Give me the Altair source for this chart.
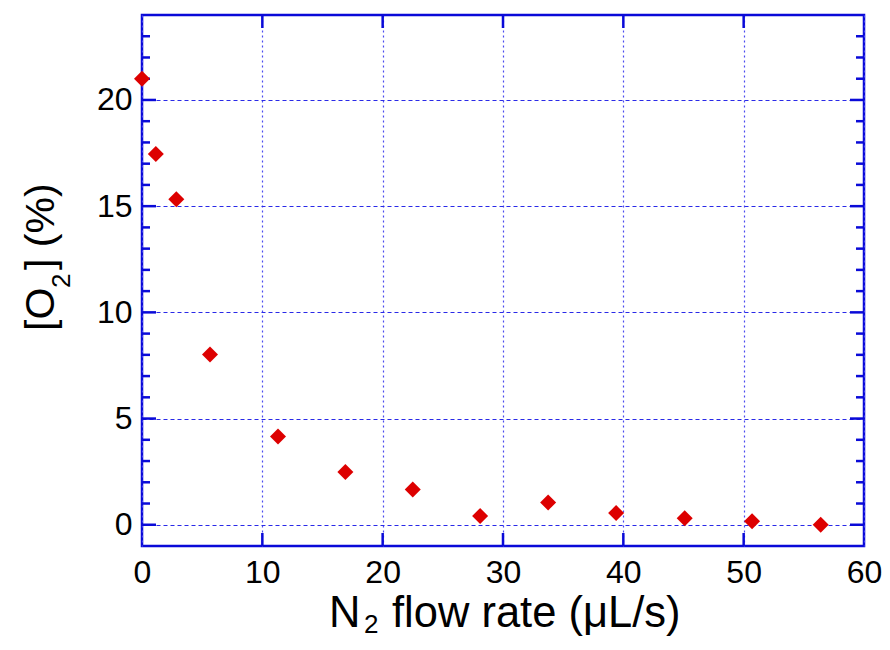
import altair as alt
import pandas as pd

# data
flow_rate = [0.0, 1.15, 2.85, 5.65, 11.3, 16.9, 22.5, 28.1, 33.75, 39.4, 45.1, 50.7, 56.4]
o2_pct = [21.0, 17.45, 15.33, 8.02, 4.16, 2.48, 1.66, 0.41, 1.05, 0.55, 0.31, 0.16, 0.0]

x_major = [0, 10, 20, 30, 40, 50, 60]
y_major = [0, 5, 10, 15, 20]
y_minor = [v for v in range(0, 24) if v % 5 != 0]

W, H = 722, 531
BLUE = "#0a0ad8"
FONT = "Liberation Sans"

xs = alt.Scale(domain=[0, 60], nice=False, zero=False)
ys = alt.Scale(domain=[-1, 24], nice=False, zero=False)

xaxis = alt.Axis(
    values=x_major, format="d", ticks=False, domain=False, title=None,
    labelFont=FONT, labelFontSize=32, labelColor="black",
    labelBaseline="alphabetic", labelPadding=36, labelFlush=False,
    grid=True, gridColor="#4a4af0", gridDash=[2, 3], gridWidth=1.2, gridOpacity=1)
yaxis = alt.Axis(
    values=y_major, format="d", ticks=False, domain=False, title=None,
    labelFont=FONT, labelFontSize=32, labelColor="black",
    labelPadding=10, labelFlush=False,
    grid=True, gridColor="#2a2ae8", gridDash=[4, 3], gridWidth=1.2, gridOpacity=1)

df = pd.DataFrame({"x": flow_rate, "y": o2_pct})

points = alt.Chart(df).mark_point(
    shape="diamond", filled=True, size=256, color="#dd0000", opacity=1
).encode(
    x=alt.X("x:Q", scale=xs, title=None, axis=xaxis),
    y=alt.Y("y:Q", scale=ys, title=None, axis=yaxis),
)

ymin_df = pd.DataFrame({"v": y_minor})
ymaj_df = pd.DataFrame({"v": y_major})
xmaj_df = pd.DataFrame({"v": x_major[1:-1]})

def yticks(d, length):
    left = alt.Chart(d).mark_rule(color=BLUE, strokeWidth=2.5).encode(
        y=alt.Y("v:Q", scale=ys, title=None, axis=yaxis), x=alt.value(0), x2=alt.value(length))
    right = alt.Chart(d).mark_rule(color=BLUE, strokeWidth=2.5).encode(
        y=alt.Y("v:Q", scale=ys, title=None, axis=yaxis), x=alt.value(W - length), x2=alt.value(W))
    return [left, right]

def xticks(d, length):
    top = alt.Chart(d).mark_rule(color=BLUE, strokeWidth=2.5).encode(
        x=alt.X("v:Q", scale=xs, title=None, axis=xaxis), y=alt.value(0), y2=alt.value(length))
    bot = alt.Chart(d).mark_rule(color=BLUE, strokeWidth=2.5).encode(
        x=alt.X("v:Q", scale=xs, title=None, axis=xaxis), y=alt.value(H - length), y2=alt.value(H))
    return [top, bot]

one = pd.DataFrame({"a": [0]})

def txt(s, x, y, size, angle=0):
    kw = dict(text=s, font=FONT, fontSize=size, color="black", align="left",
              baseline="alphabetic")
    if angle:
        kw["angle"] = angle
    return alt.Chart(one).mark_text(**kw).encode(x=alt.value(x), y=alt.value(y))

titles = [
    txt("N", 187, 612, 43.5),
    txt("2", 222, 618, 26),
    txt("flow rate (\u03bcL/s)", 250, 612, 43.5),
    txt("[O", -88, 316, 41, 270),
    txt("2", -72, 273, 26, 270),
    txt("] (%)", -88, 255, 41, 270),
]

layers = yticks(ymin_df, 8) + yticks(ymaj_df, 14) + xticks(xmaj_df, 13) + titles + [points]

chart = alt.layer(*layers).properties(
    width=W, height=H,
    autosize=alt.AutoSizeParams(type="none"),
    padding={"left": 134, "top": 7, "right": 18, "bottom": 94},
).configure_view(
    stroke=BLUE, strokeWidth=2.5
)

chart.save("out.html", embed_options={"renderer": "svg", "actions": False})
